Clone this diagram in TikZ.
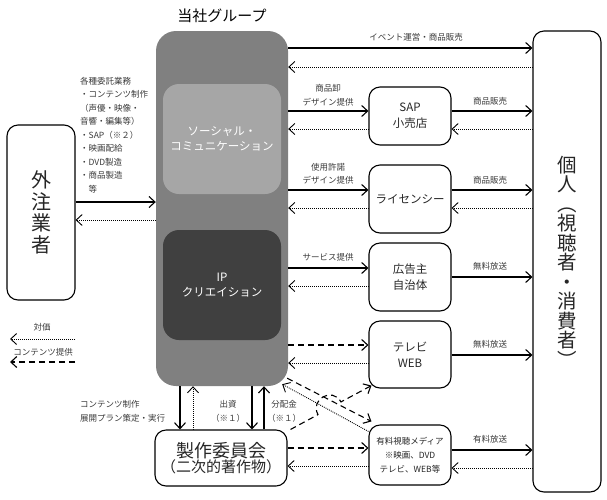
\documentclass[tikz,border=0pt]{standalone}
\usepackage{fontspec}
\setmainfont{Noto Sans CJK JP}
\usetikzlibrary{arrows.meta}
\definecolor{grpgray}{HTML}{808080}
\definecolor{socgray}{HTML}{A6A6A6}
\definecolor{ipgray}{HTML}{404040}
\definecolor{lbl}{HTML}{3A3A3A}
\tikzset{
  box/.style={draw=black, line width=1.1pt, rounded corners=11pt, fill=white, align=center, text=black!85, inner sep=0pt},
  tip/.style={-{Straight Barb[length=6pt,width=11pt]}},
  sol/.style={tip, line width=1.1pt},
  dot/.style={tip, line width=0.9pt, dash pattern=on 0.9pt off 1.1pt},
  dsh/.style={tip, line width=1.1pt, dash pattern=on 6pt off 4pt},
  lab/.style={font=\fontsize{8.5}{13.5}\selectfont, text=lbl, align=center, inner sep=0pt},
}
\begin{document}
\begin{tikzpicture}[x=1pt,y=-1pt]
\useasboundingbox (0,0) rectangle (607,499);
% group
\node[font=\fontsize{15}{18}\selectfont, inner sep=0pt] (title) at (222,16) {当社グループ};
\node[fill=grpgray, rounded corners=20pt, minimum width=132pt, minimum height=355pt, inner sep=0pt] (grp) at (222,208.5) {};
\node[fill=socgray, rounded corners=16pt, minimum width=118pt, minimum height=110pt, inner sep=0pt, text=white, align=center, font=\fontsize{11.5}{15}\selectfont] (soc) at (222,139) {ソーシャル・\\コミュニケーション};
\node[fill=ipgray, rounded corners=16pt, minimum width=118pt, minimum height=110pt, inner sep=0pt, text=white, align=center, font=\fontsize{11.5}{15}\selectfont] (ip) at (222,285) {IP\\クリエイション};
% outsourcer
\node[box, minimum width=68pt, minimum height=175pt, font=\fontsize{20}{21.5}\selectfont] (out) at (41,212.5) {外\\注\\業\\者};
% individuals
\node[box, minimum width=68pt, minimum height=461pt, font=\fontsize{19.5}{19.5}\selectfont] (ind) at (567,261.5) {個\\人\\︵\\視\\聴\\者\\・\\消\\費\\者\\︶};
% middle boxes
\node[box, minimum width=82pt, minimum height=58pt, font=\fontsize{11.5}{16}\selectfont] (sap) at (410,116) {SAP\\小売店};
\node[box, minimum width=82pt, minimum height=68pt, font=\fontsize{11.5}{16}\selectfont] (lic) at (410,199) {ライセンシー};
\node[box, minimum width=82pt, minimum height=68pt, font=\fontsize{11.5}{16}\selectfont] (adv) at (410,277) {広告主\\自治体};
\node[box, minimum width=82pt, minimum height=67pt, font=\fontsize{11.5}{16}\selectfont] (tv) at (410,354.5) {テレビ\\WEB};
\node[box, minimum width=82pt, minimum height=60pt, font=\fontsize{8.5}{14}\selectfont] (pay) at (410,455) {有料視聴メディア\\※映画、DVD\\テレビ、WEB等};
\node[box, minimum width=132pt, minimum height=56pt, align=center] (com) at (221,458) {{\fontsize{18}{21}\selectfont 製作委員会}\\{\fontsize{15}{18}\selectfont （二次的著作物）}};
% outsourcer arrows
\draw[sol] (out.east |- 0,202) -- (grp.west |- 0,202);
\draw[dot] (grp.west |- 0,220) -- (out.east |- 0,220);
\node[lab, align=left, anchor=north west] (olab) at (80,77) {各種委託業務\\・コンテンツ制作\\（声優・映像・\\音響・編集等）\\・SAP（※２）\\・映画配給\\・DVD製造\\・商品製造\\　等};
% top row
\draw[sol] (grp.east |- 0,48) -- (ind.west |- 0,48);
\draw[dot] (ind.west |- 0,67) -- (grp.east |- 0,67);
\node[lab] (l1) at (416,37) {イベント運営・商品販売};
% SAP row
\draw[sol] (grp.east |- 0,111) -- (sap.west |- 0,111);
\draw[dot] (sap.west |- 0,129) -- (grp.east |- 0,129);
\draw[sol] (sap.east |- 0,111) -- (ind.west |- 0,111);
\draw[dot] (ind.west |- 0,129) -- (sap.east |- 0,129);
\node[lab] (l2) at (328,95) {商品卸\\デザイン提供};
\node[lab] (l3) at (490,101) {商品販売};
% licensee row
\draw[sol] (grp.east |- 0,190) -- (lic.west |- 0,190);
\draw[dot] (lic.west |- 0,208) -- (grp.east |- 0,208);
\draw[sol] (lic.east |- 0,190) -- (ind.west |- 0,190);
\draw[dot] (ind.west |- 0,208) -- (lic.east |- 0,208);
\node[lab] (l4) at (328,174) {使用許諾\\デザイン提供};
\node[lab] (l5) at (490,180) {商品販売};
% advertiser row
\draw[sol] (grp.east |- 0,268) -- (adv.west |- 0,268);
\draw[dot] (adv.west |- 0,286) -- (grp.east |- 0,286);
\draw[sol] (adv.east |- 0,277) -- (ind.west |- 0,277);
\node[lab] (l6) at (328,257) {サービス提供};
\node[lab] (l7) at (490,266) {無料放送};
% tv row
\draw[dsh] (grp.east |- 0,345) -- (tv.west |- 0,345);
\draw[dot] (tv.west |- 0,363) -- (grp.east |- 0,363);
\draw[sol] (tv.east |- 0,355) -- (ind.west |- 0,355);
\node[lab] (l8) at (490,344) {無料放送};
% pay row
\draw[sol] (pay.east |- 0,450) -- (ind.west |- 0,450);
\draw[dot] (ind.west |- 0,468) -- (pay.east |- 0,468);
\node[lab] (l9) at (490,439) {有料放送};
\draw[dsh] (com.east |- 0,448) -- (pay.west |- 0,448);
\draw[dot] (pay.west |- 0,466) -- (com.east |- 0,466);
% vertical arrows
\draw[sol] (grp.south -| 180,0) -- (com.north -| 180,0);
\draw[dot] (com.north -| 193,0) -- (grp.south -| 193,0);
\draw[sol] (grp.south -| 252,0) -- (com.north -| 252,0);
\draw[sol] (com.north -| 264,0) -- (grp.south -| 264,0);
\node[lab, align=left, anchor=west] (l10) at (80,411.5) {コンテンツ制作\\展開プラン策定・実行};
\node[lab] (l11) at (228,411.5) {出資\\（※１）};
\node[lab] (l12) at (284,411.5) {分配金\\（※１）};
% diagonals
\draw[dsh] ([shift={(-1,-8)}]grp.south east) -- ([shift={(3,-3)}]pay.north west);
\draw[dot] ([shift={(0,7)}]pay.north west) -- ([shift={(-6,-2)}]grp.south east);
\draw[dsh] ([shift={(3,0)}]com.north east) -- (318,414.6) .. controls (309.6,399.3) and (332.6,386.6) .. (341,401.9) -- ([shift={(3,-3)}]tv.south west);
% legend
\coordinate (lg1a) at (75,339);
\coordinate (lg1b) at (10,339);
\coordinate (lg2a) at (75,362);
\coordinate (lg2b) at (10,362);
\draw[dot] (lg1a) -- (lg1b);
\draw[dsh] (lg2a) -- (lg2b);
\node[lab] (lg1) at (42,327) {対価};
\node[lab] (lg2) at (43,352) {コンテンツ提供};
\end{tikzpicture}
\end{document}
